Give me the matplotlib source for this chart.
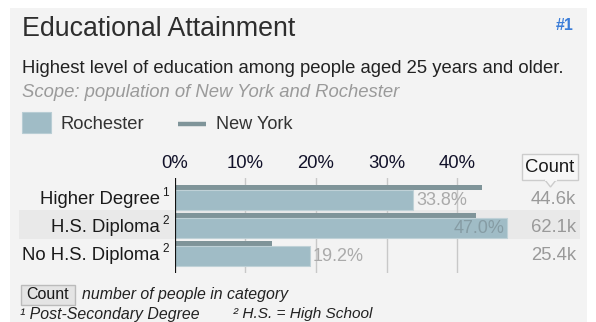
import matplotlib
matplotlib.use('Agg')
import matplotlib.pyplot as plt
from matplotlib.patches import Rectangle, Polygon

# ---------------- data ----------------
categories = ["Higher Degree", "H.S. Diploma", "No H.S. Diploma"]
footnote_marks = ["1", "2", "2"]
rochester = [33.8, 47.0, 19.2]
new_york = [43.5, 42.7, 13.8]
counts_k = [44.6, 62.1, 25.4]
tick_values = [0, 10, 20, 30, 40]
tick_labels = ["0%", "10%", "20%", "30%", "40%"]
highlight_row = 1

W, H = 596, 322
FONT = 'Liberation Sans'
plt.rcParams['font.family'] = [FONT, 'DejaVu Sans']

fig = plt.figure(figsize=(W / 100, H / 100), dpi=100)
fig.patch.set_facecolor('white')

bg = fig.add_axes([0, 0, 1, 1], zorder=0)
bg.set_xlim(0, W)
bg.set_ylim(H, 0)
bg.axis('off')
bg.add_patch(Rectangle((10, 8), 577, 320, facecolor='#f3f3f3', edgecolor='none'))

renderer = fig.canvas.get_renderer()


def fit(t, target_w):
    t.set_fontsize(10)
    w = t.get_window_extent(renderer).width
    t.set_fontsize(10 * target_w / w)
    return t


def txt(x, y, s, target_w=None, size=12, **kw):
    t = bg.text(x, y, s, va='center', fontsize=size, **kw)
    if target_w:
        fit(t, target_w)
    return t


# header
txt(22, 29, "Educational Attainment", 275, color='#2e2e2e')
txt(574, 25, "#1", 18, ha='right', color='#3b7dd8', fontweight='bold')
txt(22, 68, "Highest level of education among people aged 25 years and older.", 544,
    color='#222222')
txt(22, 92, "Scope: population of New York and Rochester", 379, color='#9a9a9a',
    style='italic')

# legend
ROCH_C = '#a0bcc6'
NY_C = '#7f9499'
bg.add_patch(Rectangle((22, 112), 28.5, 21, facecolor=ROCH_C, edgecolor='#b8cdd4', lw=0.8))
txt(60, 124, "Rochester", 84, color='#333333')
bg.plot([178, 206], [123.5, 123.5], color=NY_C, lw=3.2, solid_capstyle='butt')
txt(216, 124, "New York", 77, color='#333333')

# row geometry
ROW0 = 183.0
PITCH = 28.0
bg.add_patch(Rectangle((19, ROW0 + PITCH * highlight_row - 1.5), 561, PITCH + 1,
                       facecolor='#e9e9e9', edgecolor='none'))

# bar axes
left_px, px_per_pct, xmax = 174.5, 7.07, 50
top_px, bottom_px = 178, 273
ax = fig.add_axes([left_px / W, 1 - bottom_px / H, px_per_pct * xmax / W,
                   (bottom_px - top_px) / H], zorder=1)
ax.patch.set_alpha(0)
ax.set_xlim(0, xmax)
ax.set_ylim((bottom_px - ROW0) / PITCH, (top_px - ROW0) / PITCH)
for s in ax.spines.values():
    s.set_visible(False)
ax.set_yticks([])
ax.xaxis.tick_top()
ax.set_xticks(tick_values)
ax.set_xticklabels(tick_labels, fontsize=13.3, color='#12122a')
ax.tick_params(axis='x', length=0, pad=4)
for v in tick_values[1:]:
    ax.axvline(v, color='#c8c8c8', lw=1, zorder=0)
ax.axvline(0, color='#111111', lw=1.6, zorder=3)

n = len(categories)
ny_y = [i + 4.5 / PITCH for i in range(n)]
ro_y = [i + 17.0 / PITCH for i in range(n)]
ax.barh(ny_y, new_york, height=5 / PITCH, color=NY_C, zorder=2)
ax.barh(ro_y, rochester, height=20 / PITCH, color=ROCH_C, edgecolor='#bfd1d7',
        lw=0.8, zorder=2)

vmax = max(rochester)
for i, v in enumerate(rochester):
    lab = f"{v:.1f}%"
    if v == vmax:
        ax.text(v - 0.35, ro_y[i] + 0.02, lab, ha='right', va='center', fontsize=13,
                color='#869ca4', zorder=4)
    else:
        ax.text(v + 0.35, ro_y[i] + 0.02, lab, ha='left', va='center', fontsize=13,
                color='#aaaaaa', zorder=4)

# category labels + counts
probe = bg.text(0, 0, categories[-1], fontsize=10)
cat_size = 10 * 138 / probe.get_window_extent(renderer).width
probe.remove()
for i, (c, m) in enumerate(zip(categories, footnote_marks)):
    yc = ROW0 + PITCH * i + 16.5
    bg.text(160, yc, c, ha='right', va='center', fontsize=cat_size, color='#1a1a1a')
    bg.text(162, yc - 6.5, m, ha='left', va='center', fontsize=8.5, color='#1a1a1a')
    bg.text(576, yc, f"{counts_k[i]:.1f}k", ha='right', va='center', fontsize=13.3,
            color='#999999')

# Count header box with pointer
bg.add_patch(Rectangle((522, 154), 56, 26, facecolor='#f7f7f7', edgecolor='#cccccc', lw=1))
bg.add_patch(Polygon([[545, 180], [556, 180], [550.5, 187]], closed=True,
                     facecolor='#f7f7f7', edgecolor='#cccccc', lw=1))
bg.plot([545.5, 555.5], [180, 180], color='#f7f7f7', lw=1.4)
bg.text(550, 167, "Count", ha='center', va='center', fontsize=13.3, color='#1a1a1a')

# footer
bg.add_patch(Rectangle((21, 285), 54, 20, facecolor='#e4e4e4', edgecolor='#bbbbbb', lw=1))
bg.text(48, 294.5, "Count", ha='center', va='center', fontsize=11.5, color='#1a1a1a')
txt(82, 294, "number of people in category", 207, color='#222222', style='italic')
txt(20, 314, "¹ Post-Secondary Degree", 180, color='#222222', style='italic')
txt(233, 314, "² H.S. = High School", 140, color='#222222', style='italic')

fig.savefig('out.png', dpi=100, facecolor='white')
